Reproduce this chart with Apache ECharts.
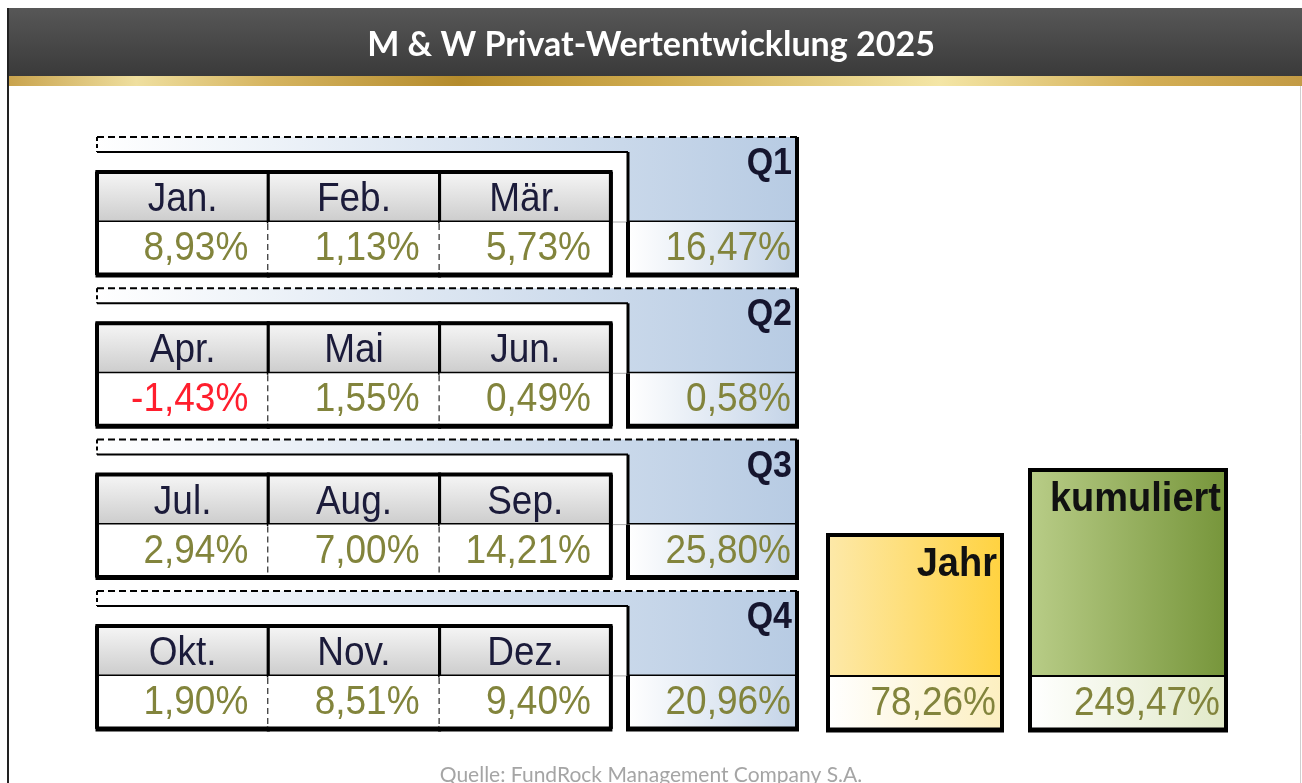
<!DOCTYPE html>
<html>
<head>
<meta charset="utf-8">
<script src="https://cdn.jsdelivr.net/npm/echarts@6/dist/echarts.min.js"></script>
<style>
html, body { margin: 0; padding: 0; background: #fff; }
#chart { width: 1302px; height: 783px; }
</style>
</head>
<body>
<div id="chart"></div>
<script type="text/javascript">
// Daten
var monthNames = ['Jan.', 'Feb.', 'Mär.', 'Apr.', 'Mai', 'Jun.', 'Jul.', 'Aug.', 'Sep.', 'Okt.', 'Nov.', 'Dez.'];
var monthValues = [8.93, 1.13, 5.73, -1.43, 1.55, 0.49, 2.94, 7.00, 14.21, 1.90, 8.51, 9.40];
var quarterNames = ['Q1', 'Q2', 'Q3', 'Q4'];
var quarterValues = [16.47, 0.58, 25.80, 20.96];
var totalNames = ['Jahr', 'kumuliert'];
var totalValues = [78.26, 249.47];

// Layout (Achsen-Einheiten = Pixel)
var BLOCK_TOP = 137, BLOCK_STEP = 151.3;
var COL_LEFT = 97, COL_W = 171.3;
var Q_L = 628, Q_R = 797;
var TOTAL_X = [[828, 1002], [1030, 1226]];
var TOTAL_TOP = [535, 470];

var ARIAL = '"Liberation Sans", Arial, sans-serif';
var VALUE_COLOR = '#82843c';
var NEG_COLOR = '#ff1e2d';

function fmt(v) {
	return v.toFixed(2).replace('.', ',') + '%';
}

function grad(x2, y2, c0, c1) {
	return new echarts.graphic.LinearGradient(0, 0, x2, y2, [
		{offset: 0, color: c0}, {offset: 1, color: c1}
	]);
}

function line(api, x0, y0, x1, y1, w, dash, color) {
	var a = api.coord([x0, y0]), b = api.coord([x1, y1]);
	return {
		type: 'line',
		shape: {x1: a[0], y1: a[1], x2: b[0], y2: b[1]},
		style: {stroke: color || '#000', lineWidth: w, lineDash: dash || null}
	};
}

function box(api, x0, y0, x1, y1, style) {
	var a = api.coord([x0, y0]), b = api.coord([x1, y1]);
	return {
		type: 'rect',
		shape: {x: a[0], y: a[1], width: b[0] - a[0], height: b[1] - a[1]},
		style: style
	};
}

// Text etwas hoeher gezogen wie im Original
function label(api, x, y, text, opt) {
	var p = api.coord([x, y]);
	return {
		type: 'text',
		x: p[0], y: p[1],
		scaleY: 1.08,
		style: {
			text: text, x: 0, y: 0,
			fill: opt.color, fontSize: opt.size, fontFamily: opt.family || ARIAL,
			fontWeight: opt.weight || 'normal',
			align: opt.align, textAlign: opt.align,
			verticalAlign: 'middle', textVerticalAlign: 'middle'
		}
	};
}

// Monatszellen
function renderMonth(params, api) {
	var i = api.value(0), v = api.value(1);
	var q = Math.floor(i / 3), c = i % 3;
	var t = BLOCK_TOP + q * BLOCK_STEP;
	var x0 = COL_LEFT + c * COL_W, x1 = x0 + COL_W;
	var kids = [];
	kids.push(box(api, x0, t + 35, x1, t + 85, {fill: grad(0, 1, '#f7f7f7', '#cbcbcb'), stroke: '#000', lineWidth: 3}));
	kids.push(line(api, x0 - 1.5, t + 35, x1 + 1.5, t + 35, 4));
	kids.push(box(api, x0, t + 85, x1, t + 138, {fill: '#fff'}));
	kids.push(line(api, x0 - 1.5, t + 138, x1 + 1.5, t + 138, 5));
	if (c === 0) {
		kids.push(line(api, x0, t + 35, x0, t + 138, 4));
	}
	if (c === 2) {
		kids.push(line(api, x1, t + 35, x1, t + 138, 4));
		kids.push(line(api, x1 + 2, t + 85, Q_L - 2, t + 85, 1, null, '#aaa'));
	} else {
		kids.push(line(api, x1, t + 87, x1, t + 136, 2, [6, 4]));
	}
	kids.push(label(api, (x0 + x1) / 2, t + 63, monthNames[i], {color: '#1b1b3a', size: 37, align: 'center'}));
	kids.push(label(api, x1 - 20, t + 112, fmt(v), {color: v < 0 ? NEG_COLOR : VALUE_COLOR, size: 37, align: 'right'}));
	return {type: 'group', children: kids};
}

// Quartalsreiter
function renderQuarter(params, api) {
	var q = api.value(0), v = api.value(1);
	var t = BLOCK_TOP + q * BLOCK_STEP;
	var pts = [[COL_LEFT, t], [Q_R, t], [Q_R, t + 85], [Q_L, t + 85], [Q_L, t + 15], [COL_LEFT, t + 15]].map(function (p) {
		return api.coord(p);
	});
	var kids = [];
	kids.push({type: 'polygon', shape: {points: pts}, style: {fill: grad(1, 0, '#ffffff', '#b7cbe3')}});
	kids.push(line(api, COL_LEFT, t, Q_R, t, 2, [7, 4]));
	kids.push(line(api, COL_LEFT, t, COL_LEFT, t + 15, 2, [4, 3]));
	kids.push(line(api, COL_LEFT, t + 15, Q_L, t + 15, 2));
	kids.push(line(api, Q_L, t + 15, Q_L, t + 85, 3));
	kids.push(line(api, Q_L, t + 85, Q_R, t + 85, 3));
	kids.push(box(api, Q_L, t + 85, Q_R, t + 138, {fill: grad(1, 0, '#ffffff', '#c3d3e7')}));
	kids.push(line(api, Q_L, t + 85, Q_L, t + 138, 4));
	kids.push(line(api, Q_R, t, Q_R, t + 138, 4));
	kids.push(line(api, Q_L - 2, t + 138, Q_R + 2, t + 138, 5));
	kids.push(label(api, Q_R - 5, t + 27, quarterNames[q], {color: '#15152e', size: 34, weight: 'bold', align: 'right'}));
	kids.push(label(api, Q_R - 6, t + 112, fmt(v), {color: VALUE_COLOR, size: 37, align: 'right'}));
	return {type: 'group', children: kids};
}

// Jahr / kumuliert
var totalColors = [
	{head: ['#fde9aa', '#ffd23f'], val: ['#ffffff', '#fcefc0']},
	{head: ['#b9cd88', '#76953a'], val: ['#ffffff', '#e1e9c8']}
];
function renderTotal(params, api) {
	var k = api.value(0), v = api.value(1);
	var x0 = TOTAL_X[k][0], x1 = TOTAL_X[k][1];
	var top = TOTAL_TOP[k], mid = 677, bot = 730;
	var col = totalColors[k];
	var kids = [];
	kids.push(box(api, x0, top, x1, mid, {fill: grad(1, 0, col.head[0], col.head[1]), stroke: '#000', lineWidth: 4}));
	kids.push(box(api, x0, mid, x1, bot, {fill: grad(1, 0, col.val[0], col.val[1])}));
	kids.push(line(api, x0, mid, x0, bot, 4));
	kids.push(line(api, x1, mid, x1, bot, 4));
	kids.push(line(api, x0 - 2, bot, x1 + 2, bot, 5));
	kids.push(label(api, x1 - 5, top + 30, totalNames[k], {color: '#111', size: 38, weight: 'bold', align: 'right'}));
	kids.push(label(api, x1 - 6, mid + 27, fmt(v), {color: VALUE_COLOR, size: 37, align: 'right'}));
	return {type: 'group', children: kids};
}

var chart = echarts.init(document.getElementById('chart'));
var options = {
	animation: false,
	backgroundColor: '#fff',
	title: [{
		text: 'M & W Privat-Wertentwicklung 2025',
		left: 'center',
		top: 23,
		textStyle: {color: '#fff', fontSize: 34, fontWeight: 'bold', fontFamily: 'Lato'}
	}, {
		text: 'Quelle: FundRock Management Company S.A.',
		left: 'center',
		top: 760,
		textStyle: {color: '#a5a5a5', fontSize: 21, fontWeight: 'normal', fontFamily: 'Lato'}
	}],
	graphic: [
		{type: 'rect', z: -10, shape: {x: 7, y: 8, width: 1295, height: 68},
			style: {fill: grad(0, 1, '#575757', '#3a3a3a')}},
		{type: 'rect', z: -10, shape: {x: 7, y: 76, width: 1295, height: 10},
			style: {fill: new echarts.graphic.LinearGradient(0, 0, 1, 0, [
				{offset: 0, color: '#c8a24c'},
				{offset: 0.1, color: '#efdf9f'},
				{offset: 0.2, color: '#d6b561'},
				{offset: 0.35, color: '#b48b2c'},
				{offset: 0.5, color: '#cfab4e'},
				{offset: 0.72, color: '#f4e6a6'},
				{offset: 0.88, color: '#d3ae55'},
				{offset: 1, color: '#c39b45'}
			])}},
		{type: 'line', z: -10, shape: {x1: 8, y1: 8, x2: 8, y2: 783}, style: {stroke: '#222', lineWidth: 2}},
		{type: 'line', z: -10, shape: {x1: 1300.5, y1: 86, x2: 1300.5, y2: 783}, style: {stroke: '#cfcfcf', lineWidth: 1}}
	],
	grid: {left: 0, right: 0, top: 0, bottom: 0},
	xAxis: {type: 'value', min: 0, max: 1302, show: false},
	yAxis: {type: 'value', min: 0, max: 783, inverse: true, show: false},
	series: [
		{
			type: 'custom', name: 'Quartale', renderItem: renderQuarter,
			data: quarterValues.map(function (v, i) { return [i, v]; })
		},
		{
			type: 'custom', name: 'Monate', renderItem: renderMonth,
			data: monthValues.map(function (v, i) { return [i, v]; })
		},
		{
			type: 'custom', name: 'Gesamt', renderItem: renderTotal,
			data: totalValues.map(function (v, i) { return [i, v]; })
		}
	]
};
chart.setOption(options);
</script>
</body>
</html>
